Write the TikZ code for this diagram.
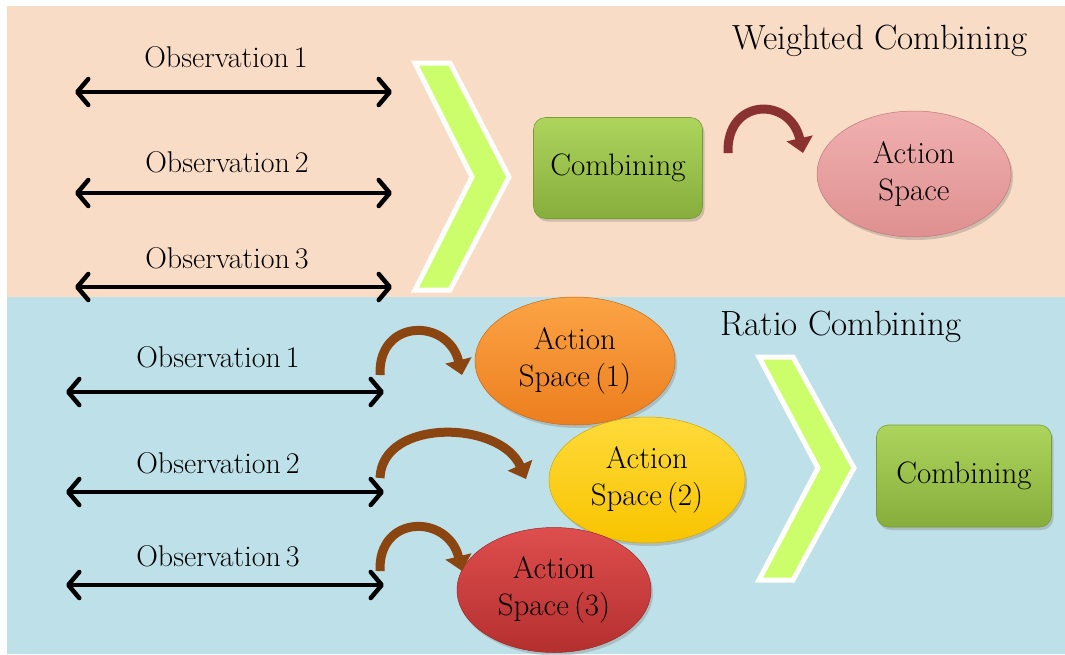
\documentclass[tikz,border=0pt]{standalone}
\usetikzlibrary{arrows.meta,shadows,shapes.geometric}
\definecolor{peach}{HTML}{F8DCC5}
\definecolor{paleblue}{HTML}{BEE0E8}
\definecolor{chevgreen}{HTML}{CCFD6A}
\definecolor{boxtop}{HTML}{ADD45C}
\definecolor{boxbot}{HTML}{87AE3C}
\definecolor{boxline}{HTML}{7A9C36}
\definecolor{pinktop}{HTML}{F0B0B0}
\definecolor{pinkbot}{HTML}{DF9090}
\definecolor{orangetop}{HTML}{FCA445}
\definecolor{orangebot}{HTML}{EC7E1E}
\definecolor{yellowtop}{HTML}{FFDA3A}
\definecolor{yellowbot}{HTML}{F8C400}
\definecolor{redtop}{HTML}{DE4E4E}
\definecolor{redbot}{HTML}{B52F2F}
\definecolor{darkred}{HTML}{8A3232}
\definecolor{brown}{HTML}{8A4510}
\begin{document}
\begin{tikzpicture}[x=1pt,y=-1pt,
  lbl/.style={font=\fontsize{30}{37}\selectfont, inner sep=0pt},
  heading/.style={font=\fontsize{35}{40}\selectfont, inner sep=0pt},
  obsarrow/.style={line width=4.5pt,
    {Straight Barb[length=11pt,width=26pt,round]}-{Straight Barb[length=11pt,width=26pt,round]}},
  bendarrow/.style={line width=9pt, draw=#1, -{Triangle[length=15pt,width=26pt]}},
  chevron/.style={fill=chevgreen, draw=white, line width=5pt, line join=miter,
    drop shadow={shadow xshift=1.5pt, shadow yshift=-1.5pt, opacity=0.25}},
  combobox/.style={rounded corners=12pt, top color=boxtop, bottom color=boxbot,
    draw=boxline, line width=0.6pt, minimum width=169pt, minimum height=101pt,
    font=\fontsize{31}{37}\selectfont,
    drop shadow={shadow xshift=2pt, shadow yshift=-3pt, opacity=0.35}},
  actionspace/.style n args={4}{ellipse, inner sep=0pt, align=center,
    minimum width=#1, minimum height=#2, top color=#3, bottom color=#4,
    draw=#4!85!black, line width=0.5pt,
    font=\fontsize{31}{37}\selectfont,
    drop shadow={shadow xshift=2pt, shadow yshift=-3pt, opacity=0.35}}
]
% page and the two panels
\path[use as bounding box, fill=white] (0,0) rectangle (1065,654);
\fill[peach] (7,6) rectangle (1065,297);
\fill[paleblue] (7,297) rectangle (1065,654);

% ---------------- weighted combining panel ----------------
\node[heading] (wtitle) at (880,41) {Weighted Combining};

\node[lbl] (wobs1) at (226,57) {Observation\,1};
\node[lbl] (wobs2) at (227,162) {Observation\,2};
\node[lbl] (wobs3) at (227,258) {Observation\,3};
\coordinate (wa1l) at (75,92);  \coordinate (wa1r) at (392,92);
\coordinate (wa2l) at (75,193); \coordinate (wa2r) at (392,193);
\coordinate (wa3l) at (75,287); \coordinate (wa3r) at (392,287);
\draw[obsarrow] (wa1l) -- (wa1r);
\draw[obsarrow] (wa2l) -- (wa2r);
\draw[obsarrow] (wa3l) -- (wa3r);

\draw[chevron] (415,63) -- (450,63) -- (509,177) -- (450,290) -- (415,290) -- (472,177) -- cycle;

\node[combobox] (wcomb) at (618,168) {Combining};
\node[actionspace={194pt}{126pt}{pinktop}{pinkbot}] (wact) at (914,174) {Action\\Space};

\coordinate (wbs) at (728,153);
\coordinate (wbe) at (803,153);
\draw[bendarrow=darkred] (wbs) .. controls (726,98) and (790,96) .. (wbe);

% ---------------- ratio combining panel ----------------
\node[heading] (rtitle) at (841,327) {Ratio Combining};

\node[lbl] (robs1) at (218,357) {Observation\,1};
\node[lbl] (robs2) at (218,463) {Observation\,2};
\node[lbl] (robs3) at (218,556) {Observation\,3};
\coordinate (ra1l) at (66,392);  \coordinate (ra1r) at (384,392);
\coordinate (ra2l) at (66,492);  \coordinate (ra2r) at (384,492);
\coordinate (ra3l) at (66,585);  \coordinate (ra3r) at (384,585);
\draw[obsarrow] (ra1l) -- (ra1r);
\draw[obsarrow] (ra2l) -- (ra2r);
\draw[obsarrow] (ra3l) -- (ra3r);

\node[actionspace={200pt}{128pt}{orangetop}{orangebot}] (ract1) at (575,361) {Action\\Space\,(1)};
\node[actionspace={196pt}{126pt}{yellowtop}{yellowbot}] (ract2) at (647,480) {Action\\Space\,(2)};
\node[actionspace={194pt}{125pt}{redtop}{redbot}] (ract3) at (554,590) {Action\\Space\,(3)};

\coordinate (rb1s) at (380,375); \coordinate (rb1e) at (462,375);
\coordinate (rb2s) at (380,478); \coordinate (rb2e) at (526,479);
\coordinate (rb3s) at (380,571); \coordinate (rb3e) at (462,571);
\draw[bendarrow=brown] (rb1s) .. controls (378,318) and (448,318) .. (rb1e);
\draw[bendarrow=brown] (rb2s) .. controls (382,418) and (500,420) .. (rb2e);
\draw[bendarrow=brown] (rb3s) .. controls (378,514) and (448,514) .. (rb3e);

\draw[chevron] (759,357) -- (793,357) -- (854,468) -- (793,580) -- (759,580) -- (818,468) -- cycle;

\node[combobox, minimum width=175pt, minimum height=102pt] (rcomb) at (964,476) {Combining};
\end{tikzpicture}
\end{document}
